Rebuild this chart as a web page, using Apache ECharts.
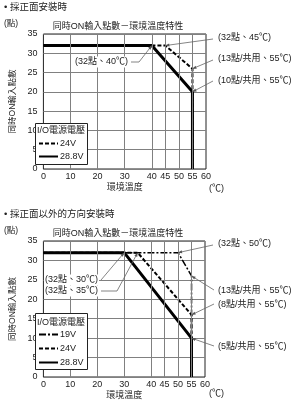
<!DOCTYPE html>
<html>
<head>
<meta charset="utf-8">
<script src="https://cdn.jsdelivr.net/npm/echarts@6/dist/echarts.min.js"></script>
<style>
  html, body { margin: 0; padding: 0; background: #fff; }
  #main { width: 292px; height: 402px; }
</style>
</head>
<body>
<div id="main"></div>
<script>
// x axis labels that are shown (grid step is 5, but not every 5 is labelled)
const xLabels = [0, 10, 20, 30, 40, 45, 50, 55, 60]
// vertical grid lines
const xGrid = [10, 20, 30, 40, 45, 50, 55]

// Top chart: mounted on the front face
const top24X = [0, 45, 55, 55]
const top24Y = [32, 32, 26, 0]
const top288X = [0, 40, 55, 55]
const top288Y = [32, 32, 20, 0]

// Bottom chart: mounted in other directions
const bot19X = [0, 50, 55, 55]
const bot19Y = [32, 32, 26, 0]
const bot24X = [0, 35, 55, 55]
const bot24Y = [32, 32, 16, 0]
const bot288X = [0, 30, 55, 55]
const bot288Y = [32, 32, 10, 0]

// annotations: text and the data point each one points at
const topNotes = ['(32點、45℃)', '(13點/共用、55℃)', '(10點/共用、55℃)', '(32點、40℃)']
const topNoteAt = [[45, 32], [55, 26], [55, 20], [40, 32]]
const botNotes = ['(32點、50℃)', '(13點/共用、55℃)', '(8點/共用、55℃)', '(5點/共用、55℃)', '(32點、30℃)', '(32點、35℃)']
const botNoteAt = [[50, 32], [55, 26], [55, 16], [55, 10], [30, 32], [35, 32]]

const FONT = "'Liberation Sans','Noto Sans CJK TC',sans-serif"
const TXT = '#222'

function zip(xs, ys) {
  return xs.map((x, i) => [x, ys[i]])
}

function makeX(grid) {
  return {
    type: 'value', gridIndex: grid, min: 0, max: 60, interval: 5,
    axisLine: { show: false }, axisTick: { show: false }, splitLine: { show: false },
    axisLabel: {
      margin: 3, fontSize: 9, color: TXT, fontFamily: FONT,
      formatter: v => (xLabels.includes(v) ? String(v) : '')
    },
    name: '環境溫度', nameLocation: 'middle', nameGap: 14,
    nameTextStyle: { fontSize: 9, color: TXT, fontFamily: FONT }
  }
}

function makeY(grid) {
  return {
    type: 'value', gridIndex: grid, min: 0, max: 35, interval: 5,
    axisLine: { show: false }, axisTick: { show: false },
    splitLine: { lineStyle: { color: '#808080', width: 1 } },
    axisLabel: { margin: 6, fontSize: 9, color: TXT, fontFamily: FONT },
    name: '同時ON輸入點數', nameLocation: 'middle', nameGap: 22, nameRotate: 90,
    nameTextStyle: { fontSize: 8.5, color: TXT, fontFamily: FONT }
  }
}

function lineSeries(name, grid, data, type, width) {
  return {
    name: name, type: 'line', xAxisIndex: grid, yAxisIndex: grid,
    data: data, symbol: 'none', silent: true, animation: false,
    itemStyle: { color: '#000' },
    lineStyle: { color: '#000', width: width, type: type }
  }
}

function gridLines(grid) {
  return {
    name: 'grid' + grid, type: 'line', xAxisIndex: grid, yAxisIndex: grid, data: [],
    silent: true, animation: false,
    markLine: {
      silent: true, symbol: ['none', 'none'], label: { show: false }, animation: false,
      lineStyle: { color: '#808080', width: 1, type: 'solid' },
      data: xGrid.map(v => ({ xAxis: v }))
    }
  }
}

const dashed = [4, 2]
const dashDot = [7, 2, 2, 2]

const legendBase = {
  orient: 'vertical', left: 38, padding: 0,
  itemWidth: 19, itemHeight: 8, selectedMode: false, z: 6,
  itemStyle: { opacity: 0 },
  textStyle: { fontSize: 9, color: TXT, fontFamily: FONT, padding: [0, 0, 0, -3] }
}

let myChart = echarts.init(document.getElementById('main'))
let option = {
  animation: false,
  grid: [
    { left: 31, top: 34, width: 175, height: 135, show: true, borderColor: '#222', borderWidth: 1, backgroundColor: 'transparent' },
    { left: 31, top: 241, width: 174, height: 136, show: true, borderColor: '#222', borderWidth: 1, backgroundColor: 'transparent' }
  ],
  xAxis: [makeX(0), makeX(1)],
  yAxis: [makeY(0), makeY(1)],
  legend: [
    Object.assign({}, legendBase, { data: ['24V', '28.8V'], top: 139, itemGap: 4 }),
    Object.assign({}, legendBase, { data: ['19V', '24V', '28.8V'], top: 330, itemGap: 5 })
  ],
  series: [
    gridLines(0),
    gridLines(1),
    lineSeries('24V', 0, zip(top24X, top24Y), dashed, 2),
    lineSeries('28.8V', 0, zip(top288X, top288Y), 'solid', 3),
    lineSeries('19V', 1, zip(bot19X, bot19Y), dashDot, 1.5),
    lineSeries('24V', 1, zip(bot24X, bot24Y), dashed, 2),
    lineSeries('28.8V', 1, zip(bot288X, bot288Y), 'solid', 3)
  ]
}
myChart.setOption(option)

// text placement and leader line start points (pixels)
const topLayout = [
  { x: 217, y: 38, align: 'left', from: [[213, 39]] },
  { x: 217, y: 59, align: 'left', from: [[213, 60]] },
  { x: 217, y: 81, align: 'left', from: [[213, 81]] },
  { x: 129, y: 62, align: 'right', from: [[131, 62], [139, 62]] }
]
const botLayout = [
  { x: 217, y: 244, align: 'left', from: [[213, 245]] },
  { x: 217, y: 291, align: 'left', from: [[214, 290]] },
  { x: 217, y: 305, align: 'left', from: [[214, 304]] },
  { x: 217, y: 347, align: 'left', from: [[214, 346]] },
  { x: 99, y: 280, align: 'right', from: [[101, 280]] },
  { x: 99, y: 291, align: 'right', from: [[101, 291], [117, 291]] }
]

function text(x, y, str, size, align, bg) {
  return {
    type: 'text', x: x, y: y, z: 10, silent: true,
    style: {
      text: str, fontSize: size, fontFamily: FONT, fill: TXT,
      align: align || 'left', verticalAlign: 'middle',
      backgroundColor: bg ? '#fff' : null, padding: bg ? [1, 1] : 0
    }
  }
}

function notes(grid, labels, points, layout) {
  let out = []
  for (let i = 0; i < labels.length; i++) {
    const p = myChart.convertToPixel({ gridIndex: grid }, points[i])
    const pts = layout[i].from.concat([p])
    out.push({
      type: 'polyline', z: 9, silent: true,
      shape: { points: pts },
      style: { stroke: '#666', lineWidth: 0.8, fill: null }
    })
    // arrow head at the data point
    const a = pts[pts.length - 2]
    const dx = p[0] - a[0], dy = p[1] - a[1]
    const len = Math.sqrt(dx * dx + dy * dy)
    const ux = dx / len, uy = dy / len
    const bx = p[0] - ux * 4, by = p[1] - uy * 4
    out.push({
      type: 'polygon', z: 9, silent: true,
      shape: { points: [p, [bx - uy * 1.6, by + ux * 1.6], [bx + uy * 1.6, by - ux * 1.6]] },
      style: { fill: '#555' }
    })
    out.push(text(layout[i].x, layout[i].y, labels[i], 9, layout[i].align, true))
  }
  return out
}

let graphics = [
  text(4, 7, '• 採正面安裝時', 9.5),
  text(4, 214, '• 採正面以外的方向安裝時', 9.5),
  text(118, 27, '同時ON輸入點數－環境溫度特性', 9, 'center'),
  text(118, 234, '同時ON輸入點數－環境溫度特性', 9, 'center'),
  text(4, 24, '(點)', 8.5),
  text(4, 231, '(點)', 8.5),
  text(209, 189, '(℃)', 9),
  text(209, 394, '(℃)', 9),
  // legend boxes
  {
    type: 'rect', z: 5, silent: true,
    shape: { x: 35.5, y: 123.5, width: 52, height: 41 },
    style: { fill: '#fff', stroke: '#222', lineWidth: 1 }
  },
  text(37, 131, 'I/O電源電壓', 9),
  {
    type: 'rect', z: 5, silent: true,
    shape: { x: 35.5, y: 313.5, width: 52, height: 56 },
    style: { fill: '#fff', stroke: '#222', lineWidth: 1 }
  },
  text(37, 323, 'I/O電源電壓', 9)
]
graphics = graphics.concat(notes(0, topNotes, topNoteAt, topLayout))
graphics = graphics.concat(notes(1, botNotes, botNoteAt, botLayout))

myChart.setOption({ graphic: graphics })
</script>
</body>
</html>
